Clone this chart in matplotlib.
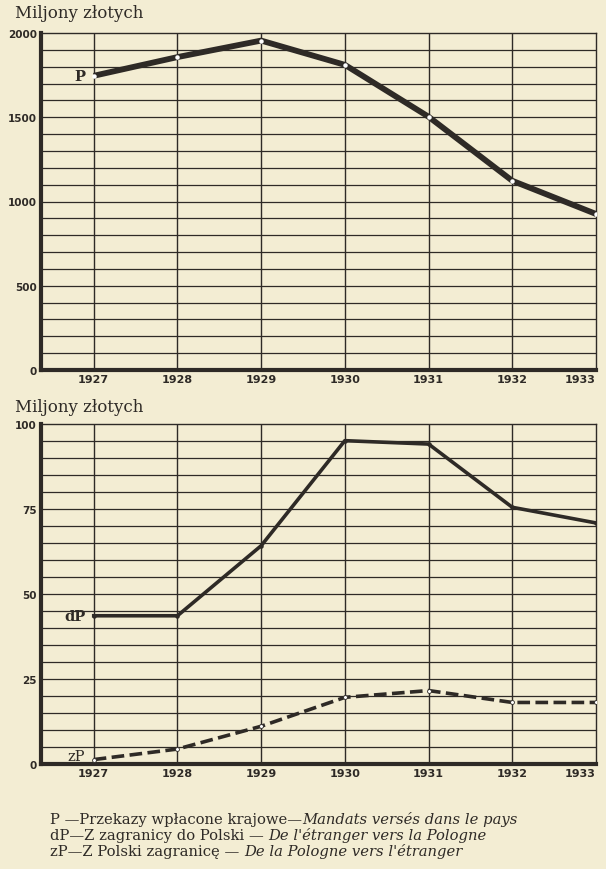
import numpy as np
import matplotlib
matplotlib.use("Agg")
import matplotlib.pyplot as plt

# data
years = [1927, 1928, 1929, 1930, 1931, 1932, 1933]
p_vals = [1746, 1857, 1955, 1811, 1503, 1123, 926]
dp_vals = [43.6, 43.6, 64.2, 95.1, 94.1, 75.5, 70.9]
zp_vals = [1.3, 4.4, 11.1, 19.6, 21.6, 18.1, 18.1]
top_ticks = [0, 500, 1000, 1500, 2000]
bot_ticks = [0, 25, 50, 75, 100]

paper = "#f3edd3"
ink = "#2e2a26"
W, H = 606, 870

fig = plt.figure(figsize=(W / 100, H / 100), dpi=100, facecolor=paper)


def make_axes(left, top, right, bottom):
    return fig.add_axes([left / W, 1 - bottom / H, (right - left) / W, (bottom - top) / H])


def style(ax, ymax, yticks, ystep):
    ax.set_facecolor(paper)
    ax.set_xlim(1926.37, 1933)
    ax.set_ylim(0, ymax)
    for y in np.arange(ystep, ymax, ystep):
        ax.axhline(y, color=ink, lw=0.9, zorder=1)
    for yr in years[:-1]:
        ax.axvline(yr, color=ink, lw=1.0, zorder=1)
    for s in ["top", "right"]:
        ax.spines[s].set_linewidth(1.0)
        ax.spines[s].set_color(ink)
    for s in ["left", "bottom"]:
        ax.spines[s].set_linewidth(3.0)
        ax.spines[s].set_color(ink)
    ax.set_xticks(years)
    ax.set_xticklabels([str(y) for y in years])
    ax.set_yticks(yticks)
    ax.tick_params(axis="x", length=0, pad=3, labelsize=8, colors=ink)
    ax.tick_params(axis="y", length=0, pad=3, labelsize=7.5, colors=ink)
    for lab in ax.get_xticklabels() + ax.get_yticklabels():
        lab.set_fontfamily(["Liberation Sans Narrow", "DejaVu Sans"])
        lab.set_fontweight("bold")
    # last year sits on the right edge; pull its label in so it is not cut
    last = ax.get_xticklabels()[-1]
    last.set_horizontalalignment("right")
    last.set_x(1933.15)


serif = ["DejaVu Serif"]

# top chart
ax1 = make_axes(41, 34, 596, 371)
style(ax1, 2000, top_ticks, 100)
ax1.plot(years, p_vals, color=ink, lw=4.2, zorder=3, solid_capstyle="butt")
ax1.plot(years, p_vals, ls="none", marker="o", ms=2.2, mfc="white", mec="white", zorder=4)
ax1.text(1926.9, p_vals[0], "P", family=serif, fontweight="bold", fontsize=10.5,
         ha="right", va="center", color=ink)
fig.text(15 / W, 1 - 14 / H, "Miljony złotych", family=serif, fontsize=12,
         ha="left", va="center", color=ink)

# bottom chart
ax2 = make_axes(41, 425, 596, 765)
style(ax2, 100, bot_ticks, 5)
ax2.plot(years, dp_vals, color=ink, lw=2.6, zorder=3)
ax2.plot(years, zp_vals, color=ink, lw=2.6, ls=(0, (3.5, 1.5)), zorder=3)
ax2.plot(years, dp_vals, ls="none", marker="o", ms=2.2, mfc=ink, mec=ink, zorder=4)
ax2.plot(years, zp_vals, ls="none", marker="o", ms=2.8, mfc="white", mec=ink, mew=0.6, zorder=4)
ax2.text(1926.9, dp_vals[0], "dP", family=serif, fontweight="bold", fontsize=10.5,
         ha="right", va="center", color=ink)
ax2.text(1926.9, zp_vals[0] + 1, "zP", family=serif, fontsize=10.5,
         ha="right", va="center", color=ink)
fig.text(15 / W, 1 - 408 / H, "Miljony złotych", family=serif, fontsize=12,
         ha="left", va="center", color=ink)

# legend lines: normal Polish part followed by italic French part
legend_rows = [
    ("P —Przekazy wpłacone krajowe—", "Mandats versés dans le pays"),
    ("dP—Z zagranicy do Polski — ", "De l'étranger vers la Pologne"),
    ("zP—Z Polski zagranicę — ", "De la Pologne vers l'étranger"),
]
y0 = 820
for i, (pl, fr) in enumerate(legend_rows):
    t = fig.text(50 / W, 1 - (y0 + i * 16) / H, pl, family=serif, fontsize=10.6,
                 ha="left", va="center", color=ink)
    ax1.annotate(fr, xy=(1, 0.5), xycoords=t, va="center", ha="left",
                 family=serif, style="italic", fontsize=10.6, color=ink,
                 annotation_clip=False)

fig.savefig("out.png", dpi=100, facecolor=paper)
